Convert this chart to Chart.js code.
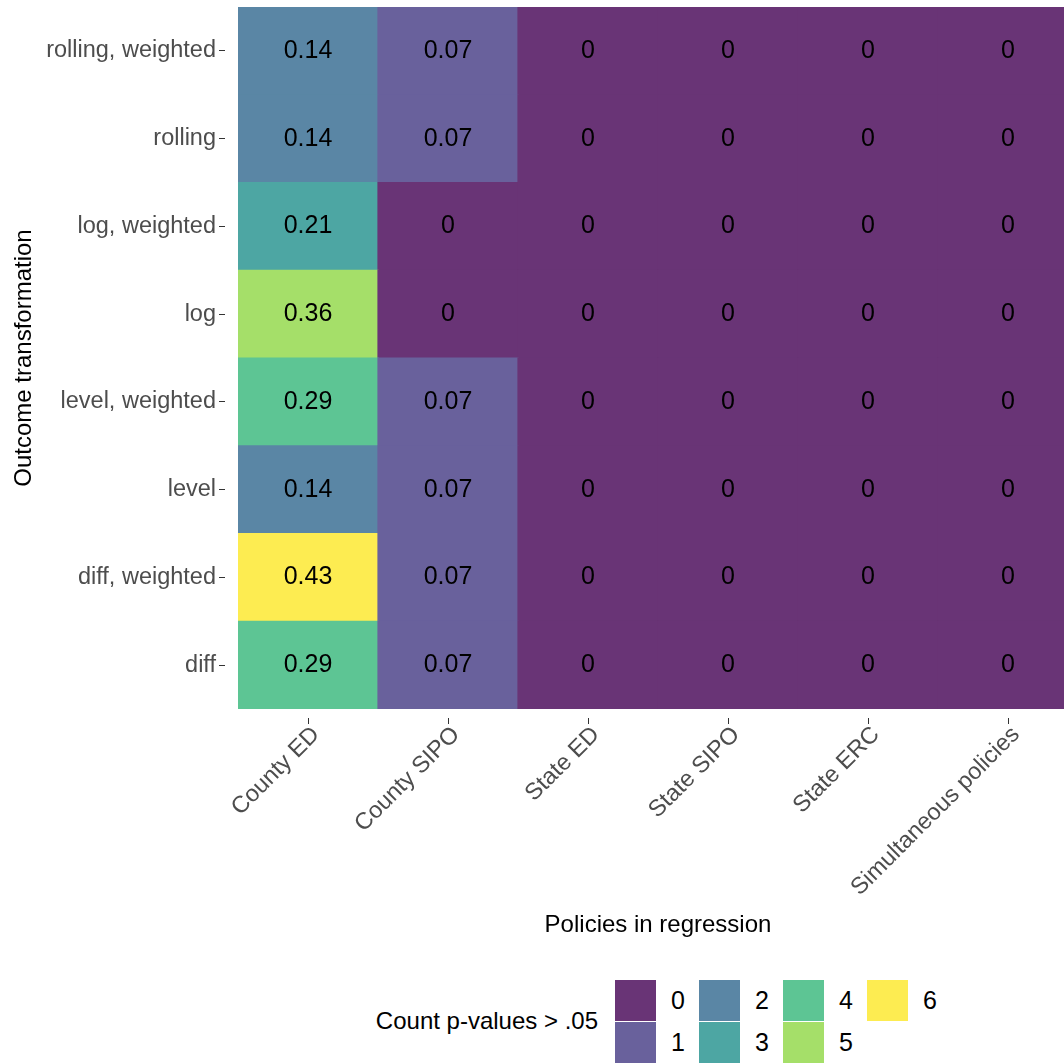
<html>
<head>
<meta charset="utf-8">
<title>Count p-values heatmap</title>
<script src="https://cdn.jsdelivr.net/npm/chart.js@4.4.1/dist/chart.umd.min.js"></script>
<style>
  html, body { margin: 0; padding: 0; background: #fff; overflow: hidden; }
  #wrap { position: relative; width: 1080px; height: 1063px; }
  #chartBox { position: absolute; left: 0; top: 0; width: 1080px; height: 960px; }
  #legendTitle { position: absolute; right: calc(1080px - 598px); top: 1007px;
    font: 24px "Liberation Sans", Arial, sans-serif; color: #000; white-space: nowrap; }
  #legendKeys { position: absolute; left: 615px; top: 980px; display: grid;
    grid-template-rows: 41px 41px; grid-auto-flow: column; grid-auto-columns: 84px; row-gap: 1px; }
  .key { display: flex; align-items: center; }
  .swatch { width: 41px; height: 41px; }
  .keyLabel { margin-left: 15px; font: 25px "Liberation Sans", Arial, sans-serif; color: #000; }
</style>
</head>
<body>
<div id="wrap">
  <div id="chartBox"><canvas id="heat"></canvas></div>
  <div id="legendTitle">Count p-values &gt; .05</div>
  <div id="legendKeys"></div>
</div>

<script>
  // columns (policies) and rows (outcome transformations, bottom to top)
  var policies = ['County ED', 'County SIPO', 'State ED', 'State SIPO', 'State ERC', 'Simultaneous policies'];
  var outcomes = ['diff', 'diff, weighted', 'level', 'level, weighted', 'log', 'log, weighted', 'rolling', 'rolling, weighted'];

  // share of p-values > .05, one entry per outcome row
  var countyEDShare   = [0.29, 0.43, 0.14, 0.29, 0.36, 0.21, 0.14, 0.14];
  var countySIPOShare = [0.07, 0.07, 0.07, 0.07, 0, 0, 0.07, 0.07];
  var stateEDShare    = [0, 0, 0, 0, 0, 0, 0, 0];
  var stateSIPOShare  = [0, 0, 0, 0, 0, 0, 0, 0];
  var stateERCShare   = [0, 0, 0, 0, 0, 0, 0, 0];
  var simultShare     = [0, 0, 0, 0, 0, 0, 0, 0];

  // count of p-values > .05, same layout
  var countyEDCount   = [4, 6, 2, 4, 5, 3, 2, 2];
  var countySIPOCount = [1, 1, 1, 1, 0, 0, 1, 1];
  var stateEDCount    = [0, 0, 0, 0, 0, 0, 0, 0];
  var stateSIPOCount  = [0, 0, 0, 0, 0, 0, 0, 0];
  var stateERCCount   = [0, 0, 0, 0, 0, 0, 0, 0];
  var simultCount     = [0, 0, 0, 0, 0, 0, 0, 0];

  var countLevels = [0, 1, 2, 3, 4, 5, 6];
  // viridis, alpha .8 over white
  var palette = ['#693476', '#69619c', '#5a86a5', '#4da6a3', '#5dc594', '#a5df69', '#fdec51'];

  var shares = [countyEDShare, countySIPOShare, stateEDShare, stateSIPOShare, stateERCShare, simultShare];
  var counts = [countyEDCount, countySIPOCount, stateEDCount, stateSIPOCount, stateERCCount, simultCount];

  var tickFont = { family: '"Liberation Sans", Arial, sans-serif', size: 23.5 };
  var titleFont = { family: '"Liberation Sans", Arial, sans-serif', size: 24 };

  // one dataset per row; each tile is a floating bar spanning [row, row+1]
  var datasets = outcomes.map(function (name, r) {
    return {
      label: name,
      data: policies.map(function () { return [r, r + 1]; }),
      shares: policies.map(function (p, c) { return shares[c][r]; }),
      backgroundColor: policies.map(function (p, c) { return palette[counts[c][r]]; }),
      borderWidth: 0,
      inflateAmount: 0.6,   // hide hairline seams between tiles
      barPercentage: 1,
      categoryPercentage: 1
    };
  });

  // write the share in the middle of each tile
  var tileText = {
    id: 'tileText',
    afterDatasetsDraw: function (chart) {
      var ctx = chart.ctx;
      ctx.save();
      ctx.font = '25px "Liberation Sans", Arial, sans-serif';
      ctx.fillStyle = '#000';
      ctx.textAlign = 'center';
      ctx.textBaseline = 'middle';
      chart.data.datasets.forEach(function (ds, i) {
        chart.getDatasetMeta(i).data.forEach(function (bar, j) {
          var v = ds.shares[j];
          ctx.fillText(String(v), bar.x, (bar.y + bar.base) / 2);
        });
      });
      ctx.restore();
    }
  };

  var ctx = document.getElementById('heat').getContext('2d');
  var chart = new Chart(ctx, {
    type: 'bar',
    data: { labels: policies, datasets: datasets },
    plugins: [tileText],
    options: {
      animation: false,
      responsive: true,
      maintainAspectRatio: false,
      plugins: { legend: { display: false }, tooltip: { enabled: false } },
      layout: { padding: { top: 7, right: 2, left: 0, bottom: 0 } },
      scales: {
        x: {
          type: 'category',
          stacked: true,
          offset: true,
          border: { display: false },
          grid: {
            display: true, drawOnChartArea: false, offset: false,
            tickLength: 15, tickColor: '#333', tickWidth: 1,
            tickBorderDash: [6, 9], tickBorderDashOffset: 6
          },
          ticks: { font: tickFont, color: '#4d4d4d', maxRotation: 45, minRotation: 45, autoSkip: false, padding: -3, labelOffset: 8 },
          title: { display: true, text: 'Policies in regression', font: titleFont, color: '#000', padding: { top: 20, bottom: 20 } },
          afterFit: function (s) { s.height = 251; s.paddingLeft = 0; s.paddingRight = 0; }
        },
        y: {
          type: 'linear',
          min: 0,
          max: outcomes.length,
          border: { display: false },
          grid: {
            display: true, drawOnChartArea: false,
            tickLength: 19, tickColor: '#333', tickWidth: 1,
            tickBorderDash: [6, 13], tickBorderDashOffset: 0
          },
          afterBuildTicks: function (s) {
            s.ticks = outcomes.map(function (o, i) { return { value: i + 0.5 }; });
          },
          ticks: {
            font: tickFont, color: '#4d4d4d', padding: 3, autoSkip: false,
            callback: function (v, i) { return outcomes[i]; }
          },
          title: { display: true, text: 'Outcome transformation', font: titleFont, color: '#000', padding: { top: 10, bottom: 10 } },
          afterFit: function (s) { s.width = 238; s.paddingTop = 0; s.paddingBottom = 0; }
        }
      }
    }
  });

  // legend: 2 rows, filled column by column
  var keys = document.getElementById('legendKeys');
  countLevels.forEach(function (lv) {
    var k = document.createElement('div');
    k.className = 'key';
    k.innerHTML = '<div class="swatch" style="background:' + palette[lv] + '"></div><span class="keyLabel">' + lv + '</span>';
    keys.appendChild(k);
  });
</script>
</body>
</html>
